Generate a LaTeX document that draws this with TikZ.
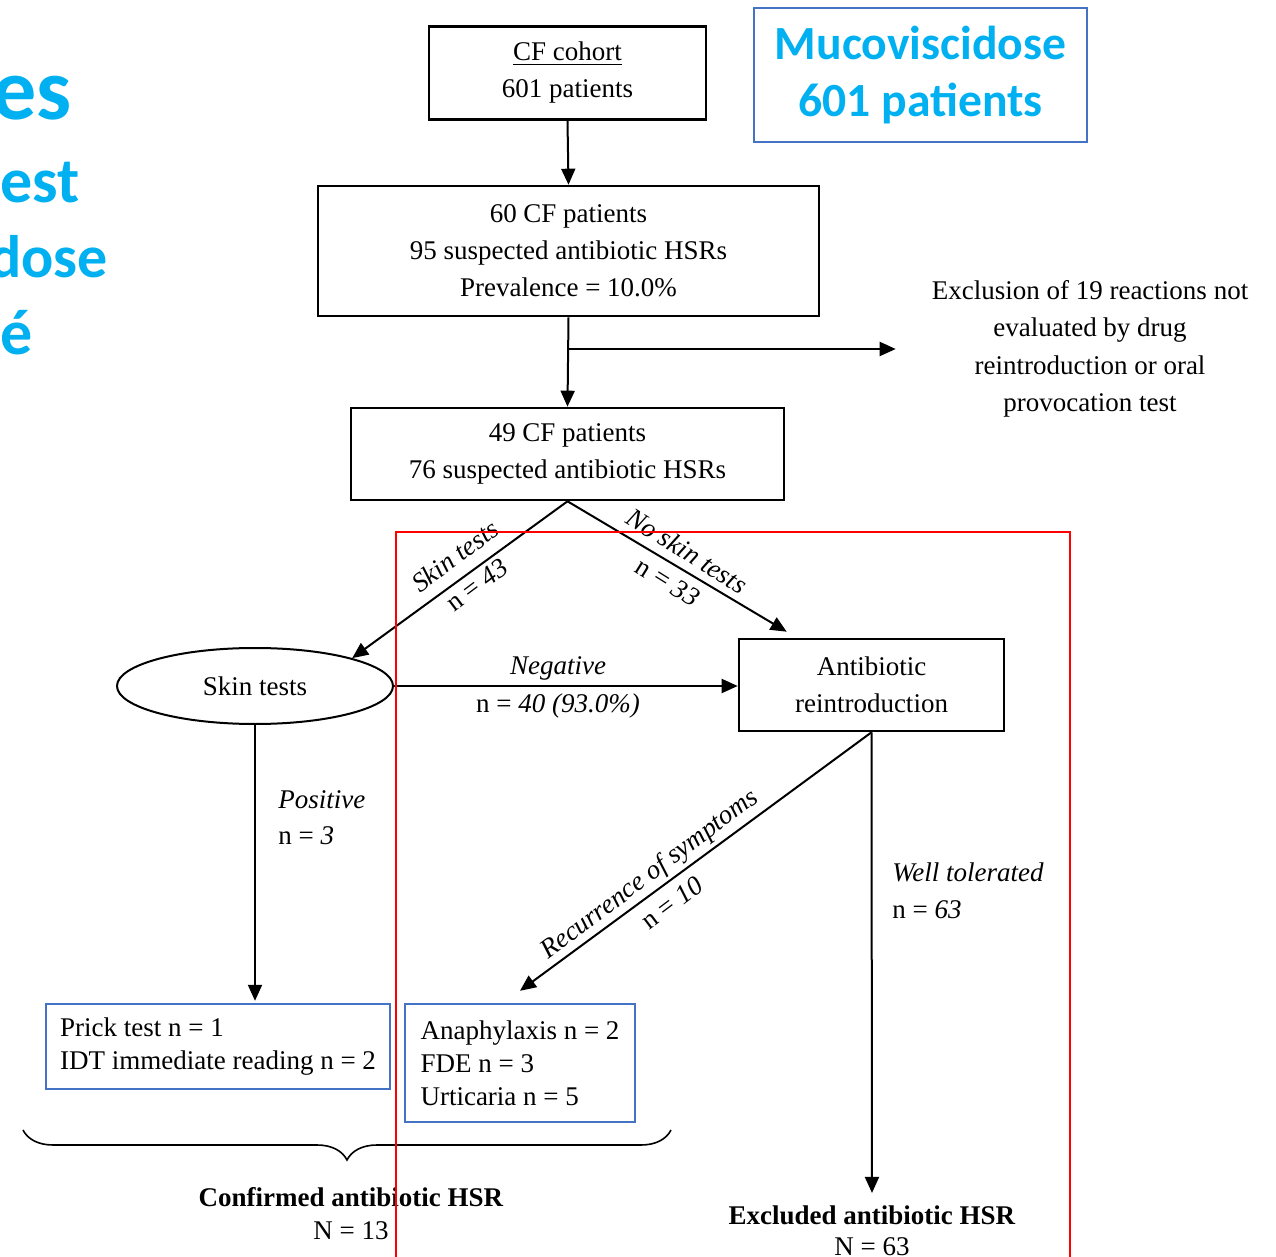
\documentclass[tikz,border=0pt]{standalone}
\usepackage{fontspec}
\setmainfont{Liberation Serif}
\newfontfamily\calib{Carlito}
\usetikzlibrary{arrows.meta,shapes.geometric,decorations.pathreplacing}
\definecolor{cfblue}{RGB}{0,176,240}
\definecolor{boxblue}{RGB}{68,114,196}

\begin{document}
\begin{tikzpicture}[x=0.5pt,y=-0.5pt,
  every node/.style={font=\fontsize{13.5}{18.5}\selectfont},
  flowbox/.style={draw,line width=1.3pt,align=center},
  resbox/.style={draw=boxblue,line width=1.2pt,align=left,font=\fontsize{13.5}{16.5}\selectfont},
  flow/.style={line width=1pt,-{Triangle[length=8pt,width=7pt]}},
  bigblue/.style={text=cfblue,anchor=base west,inner sep=0pt,font=\calib\bfseries\fontsize{30}{30}\selectfont}]

\useasboundingbox (0,0) rectangle (1276,1257);

% title, cut at the left edge
\path (-8,120) node (tes) [bigblue,font=\calib\bfseries\fontsize{44}{44}\selectfont] {es};
\path (0,203) node (test) [bigblue,font=\calib\bfseries\fontsize{32}{32}\selectfont] {est};
\path (-11,278) node (tdose) [bigblue] {dose};
\path (0,355) node (teacute) [bigblue,font=\calib\bfseries\fontsize{32}{32}\selectfont] {é};

\path (920.5,75) node (muco) [draw=boxblue,line width=0.8pt,minimum width=166.5pt,minimum height=67pt,align=center,text=cfblue,font=\calib\bfseries\fontsize{23.8}{28.5}\selectfont] {Mucoviscidose\\601 patients};

% flow chart
\path (567.5,73) node (cohort) [flowbox,minimum width=138.5pt,minimum height=46.5pt] {\underline{CF cohort}\\601 patients};
\path (568.5,251) node (pts60) [flowbox,minimum width=250.5pt,minimum height=65pt] {60 CF patients\\95 suspected antibiotic HSRs\\Prevalence = 10.0\%};
\path (567.5,454) node (pts49) [flowbox,minimum width=216.5pt,minimum height=46pt] {49 CF patients\\76 suspected antibiotic HSRs};
\path (1090,349) node (excl19) [align=center,font=\fontsize{13.5}{18.75}\selectfont] {Exclusion of 19 reactions not\\evaluated by drug\\reintroduction or oral\\provocation test};
\coordinate (split) at (568,349);

\path (255,686) node (skin) [draw,ellipse,line width=1pt,minimum width=138pt,minimum height=38pt] {Skin tests};
\path (871.5,685) node (anti) [flowbox,minimum width=132.5pt,minimum height=46pt] {Antibiotic\\reintroduction};

\path (218,1046.5) node (prick) [resbox,minimum width=172pt,minimum height=42.5pt] {Prick test n = 1\\IDT immediate reading n = 2};
\path (520,1063) node (ana) [resbox,minimum width=115pt,minimum height=59pt] {Anaphylaxis n = 2\\FDE n = 3\\Urticaria n = 5};

\path (351,1213.5) node (hsrconf) [align=center,font=\fontsize{13.5}{16.5}\selectfont] {\textbf{Confirmed antibiotic HSR}\\N = 13};
\path (872,1231) node (hsrno) [align=center,font=\fontsize{13.5}{15.5}\selectfont] {\textbf{Excluded antibiotic HSR}\\N = 63};

\draw [flow] (cohort.south) -- (pts60.north);
\draw [flow] (pts60.south) -- (pts49.north);
\draw [flow,shorten >=14.5pt] (split) -- (excl19.west);
\draw [flow] (pts49.south) -- (skin.16);
\draw [flow] (pts49.south) -- ([xshift=24.5pt,yshift=3pt]anti.north west);
\draw [flow] (skin.east) -- (anti.west |- skin.east);
\draw [flow] (skin.south) -- ([yshift=1pt]skin.south |- prick.north);
\draw [flow] (anti.south) -- ([yshift=6pt]ana.north);
\draw [flow,shorten >=3pt] (anti.south) -- (hsrno.north);

% branch labels
\path (455,556) node (lskin) [rotate=37] {\textit{Skin tests}};
\path (477,585) node (lskinn) [rotate=37] {n = \textit{43}};
\path (687,551) node (lnoskin) [rotate=-32] {\textit{No skin tests}};
\path (668,582) node (lnoskinn) [rotate=-32] {n = \textit{33}};
\path (558,668) node (lneg) {\textit{Negative}};
\path (558,706) node (lnegn) {n = \textit{40 (93.0\%)}};
\path (278,800) node (lpos) [anchor=west,inner sep=0pt] {\textit{Positive}};
\path (278,836) node (lposn) [anchor=west,inner sep=0pt] {n = \textit{3}};
\path (650,875) node (lrec) [rotate=37] {\textit{Recurrence of symptoms}};
\path (672,903) node (lrecn) [rotate=37] {n = \textit{10}};
\path (892,872) node (lwell) [anchor=west,inner sep=0pt] {\textit{Well tolerated}};
\path (892,910) node (lwelln) [anchor=west,inner sep=0pt] {n = \textit{63}};

% brace over the confirmed reactions
\coordinate (brl) at (23,1130);
\coordinate (brr) at (671,1130);
\draw [decorate,decoration={brace,mirror,amplitude=15pt},line width=0.8pt] (brl) -- (brr);

% red frame
\draw [red,line width=1pt] (396,1262) -- (396,532) -- (1070,532) -- (1070,1262);

\end{tikzpicture}
\end{document}
